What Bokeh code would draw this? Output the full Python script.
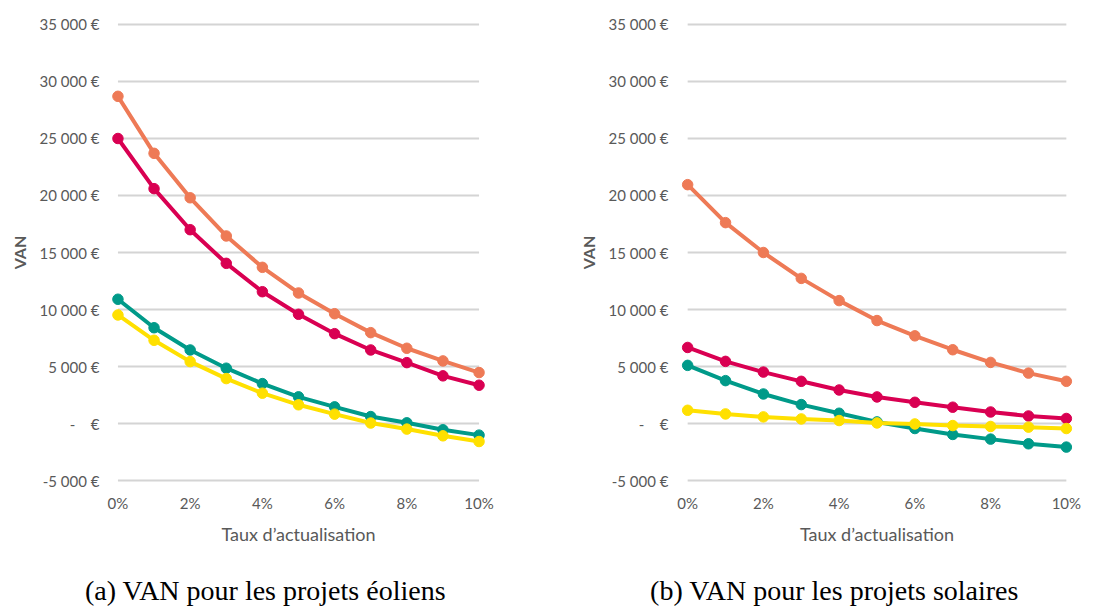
from bokeh.plotting import figure
from bokeh.layouts import row, column
from bokeh.models import Range1d, FixedTicker
from bokeh.core.properties import value
from bokeh.embed import file_html
from bokeh.resources import INLINE

# ---------------- data ----------------
rates = [0, 1, 2, 3, 4, 5, 6, 7, 8, 9, 10]  # taux d'actualisation (%)
x_ticks = [0, 2, 4, 6, 8, 10]
x_tick_labels = ["0%", "2%", "4%", "6%", "8%", "10%"]
y_ticks = [-5000, 0, 5000, 10000, 15000, 20000, 25000, 30000, 35000]
y_tick_labels = ["-5 000 €", "-\u00a0\u00a0\u00a0\u00a0€", "5 000 €", "10 000 €", "15 000 €",
                 "20 000 €", "25 000 €", "30 000 €", "35 000 €"]

eol_orange = [28700, 23700, 19800, 16450, 13700, 11450, 9630, 7970, 6600, 5490, 4470]
eol_crimson = [25000, 20600, 17000, 14050, 11560, 9580, 7880, 6450, 5340, 4180, 3360]
eol_teal = [10900, 8400, 6450, 4850, 3500, 2340, 1460, 610, 60, -550, -1020]
eol_yellow = [9520, 7300, 5430, 3940, 2660, 1640, 820, 40, -490, -1080, -1580]

sol_orange = [20950, 17620, 15000, 12730, 10780, 9030, 7690, 6470, 5360, 4420, 3700]
sol_crimson = [6670, 5450, 4510, 3700, 2940, 2330, 1860, 1430, 1010, 660, 440]
sol_teal = [5100, 3760, 2590, 1660, 900, 140, -440, -960, -1370, -1780, -2070]
sol_yellow = [1160, 840, 580, 400, 260, 50, -40, -180, -260, -320, -440]

colors = ["#EE7A56", "#D90052", "#009A89", "#FFE000"]
captions = ["(a) VAN pour les projets éoliens", "(b) VAN pour les projets solaires"]

FONT = "Lato"
GREY = "#595959"
Y0, Y1 = -5877, 35877
H = 560
MB_TOP = 14
MB_BOTTOM = 70


def make(series, width, mbl, mbr):
    p = figure(width=width, height=H, x_range=Range1d(-0.4, 10.4), y_range=Range1d(Y0, Y1),
               output_backend="svg", toolbar_location=None,
               min_border_left=mbl, min_border_right=mbr,
               min_border_top=MB_TOP, min_border_bottom=MB_BOTTOM)
    p.outline_line_color = None
    p.xgrid.visible = False
    p.ygrid.visible = False

    # horizontal gridlines spanning the category range only
    p.segment(x0=[rates[0]] * len(y_ticks), y0=y_ticks, x1=[rates[-1]] * len(y_ticks), y1=y_ticks,
              line_color="#D4D4D4", line_width=1.8)

    for vals, c in zip(series, colors):
        p.line(rates, vals, line_color=c, line_width=4)
        p.scatter(rates, vals, size=10.5, fill_color=c, line_color=c)

    for ax in (p.yaxis[0], p.xaxis[0]):
        ax.axis_line_color = None
        ax.major_tick_line_color = None
        ax.minor_tick_line_color = None
        ax.major_tick_out = 0
        ax.major_tick_in = 0
        ax.minor_tick_out = 0
        ax.minor_tick_in = 0
        ax.major_label_text_font = FONT
        ax.major_label_text_font_size = "15px"
        ax.major_label_text_color = GREY
        ax.axis_label_text_font = FONT
        ax.axis_label_text_color = GREY

    ya = p.yaxis[0]
    ya.ticker = FixedTicker(ticks=y_ticks)
    ya.major_label_overrides = {t: l for t, l in zip(y_ticks, y_tick_labels)}
    ya.major_label_standoff = 4
    ya.axis_label = "VAN"
    ya.axis_label_text_font_size = "16px"
    ya.axis_label_text_font_style = "bold"
    ya.axis_label_standoff = 8

    xa = p.xaxis[0]
    xa.ticker = FixedTicker(ticks=x_ticks)
    xa.major_label_overrides = {t: l for t, l in zip(x_ticks, x_tick_labels)}
    xa.major_label_standoff = 3
    xa.axis_label = "Taux d\u2019actualisation"
    xa.axis_label_text_font_size = "18px"
    xa.axis_label_text_font_style = "normal"
    xa.axis_label_standoff = 8
    return p


p1 = make([eol_orange, eol_crimson, eol_teal, eol_yellow], 552, 103, 59)
p2 = make([sol_orange, sol_crimson, sol_teal, sol_yellow], 544, 120, 15)

# caption strip below the two charts
CAP_W, CAP_H = 1096, 47
cap = figure(width=CAP_W, height=CAP_H, x_range=Range1d(0, CAP_W), y_range=Range1d(0, CAP_H),
             output_backend="svg", toolbar_location=None, min_border=0)
cap.axis.visible = False
cap.grid.visible = False
cap.outline_line_color = None
cap.text(x=[265, 834], y=[CAP_H - 30, CAP_H - 30], text=captions,
         text_align="center", text_baseline="middle",
         text_font=value("Liberation Serif"), text_font_size="28px", text_color="black")

layout = column(row(p1, p2), cap)
open("out.html", "w").write(file_html(layout, INLINE))
